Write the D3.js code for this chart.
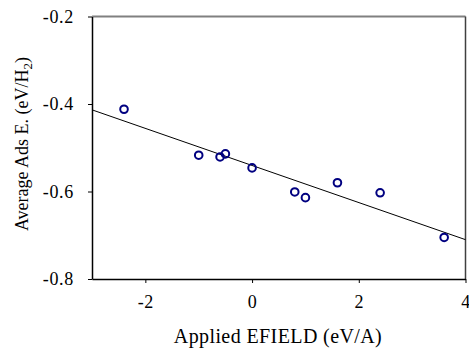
<!DOCTYPE html>
<html><head><meta charset="utf-8">
<script src="https://cdn.jsdelivr.net/npm/d3@7/dist/d3.min.js"></script>
<style>body{margin:0;background:#fff}svg{display:block}</style>
</head><body><svg id="c" width="469" height="351"></svg>
<script>
const fieldX = [-2.4, -1.0, -0.6, -0.5, 0.0, 0.8, 1.0, 1.6, 2.4, 3.6];
const adsE   = [-0.412, -0.517, -0.521, -0.514, -0.546, -0.601, -0.614, -0.580, -0.603, -0.705];
const xTicks = [-2, 0, 2, 4];
const yTicks = [-0.8, -0.6, -0.4, -0.2];
const xDomain = [-3, 4];
const yDomain = [-0.8, -0.2];

const FONT = "Liberation Serif";
const svg = d3.select("#c");
const L = 92, R = 465.5, T = 16.5, B = 279;
const x = d3.scaleLinear().domain(xDomain).range([L, R]);
const y = d3.scaleLinear().domain(yDomain).range([B, T]);

// frame top/right
svg.append("line").attr("x1", L).attr("x2", R).attr("y1", T).attr("y2", T)
  .attr("stroke", "#808080").attr("stroke-width", 2);
svg.append("line").attr("x1", R).attr("x2", R).attr("y1", T).attr("y2", B)
  .attr("stroke", "#404040").attr("stroke-width", 1.5);

// regression
const n = fieldX.length;
const mx = d3.mean(fieldX), my = d3.mean(adsE);
let sxy = 0, sxx = 0;
for (let i = 0; i < n; i++) { sxy += (fieldX[i]-mx)*(adsE[i]-my); sxx += (fieldX[i]-mx)**2; }
const slope = sxy / sxx, icpt = my - slope*mx;
svg.append("line")
  .attr("x1", x(xDomain[0])).attr("y1", y(icpt + slope*xDomain[0]))
  .attr("x2", x(xDomain[1])).attr("y2", y(icpt + slope*xDomain[1]))
  .attr("stroke", "#000").attr("stroke-width", 1);

// axes
const xa = svg.append("g").attr("transform", `translate(0,${B})`)
  .call(d3.axisBottom(x).tickValues(xTicks).tickSize(4).tickPadding(12).tickSizeOuter(0));
const ya = svg.append("g").attr("transform", `translate(${L},0)`)
  .call(d3.axisLeft(y).tickValues(yTicks).tickSize(4).tickPadding(14).tickSizeOuter(0));
[xa, ya].forEach(a => {
  a.attr("font-family", FONT).attr("font-size", 18);
  a.select(".domain").attr("stroke", "#000").attr("stroke-width", 1.5);
  a.selectAll(".tick line").attr("stroke", "#000");
  a.selectAll("text").style("font-family", FONT).style("font-size", "18px")
    .style("letter-spacing", "0.7px").attr("fill", "#000");
});
ya.selectAll("text").text(d => d3.format(".1f")(d).replace("\u2212", "-"));
xa.selectAll("text").text(d => String(d).replace("\u2212", "-"));

// points
svg.append("g").selectAll("circle").data(fieldX).join("circle")
  .attr("cx", d => x(d)).attr("cy", (d, i) => y(adsE[i])).attr("r", 3.8)
  .attr("fill", "none").attr("stroke", "#000080").attr("stroke-width", 2);

// titles
svg.append("text").attr("x", 278).attr("y", 343).attr("text-anchor", "middle")
  .style("font-family", FONT).style("font-size", "20px").style("letter-spacing", "0.4px")
  .text("Applied EFIELD (eV/A)");
const yt = svg.append("text").attr("transform", `translate(28,144) rotate(-90)`)
  .attr("text-anchor", "middle").style("font-family", FONT).style("font-size", "18px");
yt.append("tspan").text("Average Ads E. (eV/H");
yt.append("tspan").style("font-size", "13px").attr("dy", 4).text("2");
yt.append("tspan").attr("dy", -4).text(")");
</script></body></html>
